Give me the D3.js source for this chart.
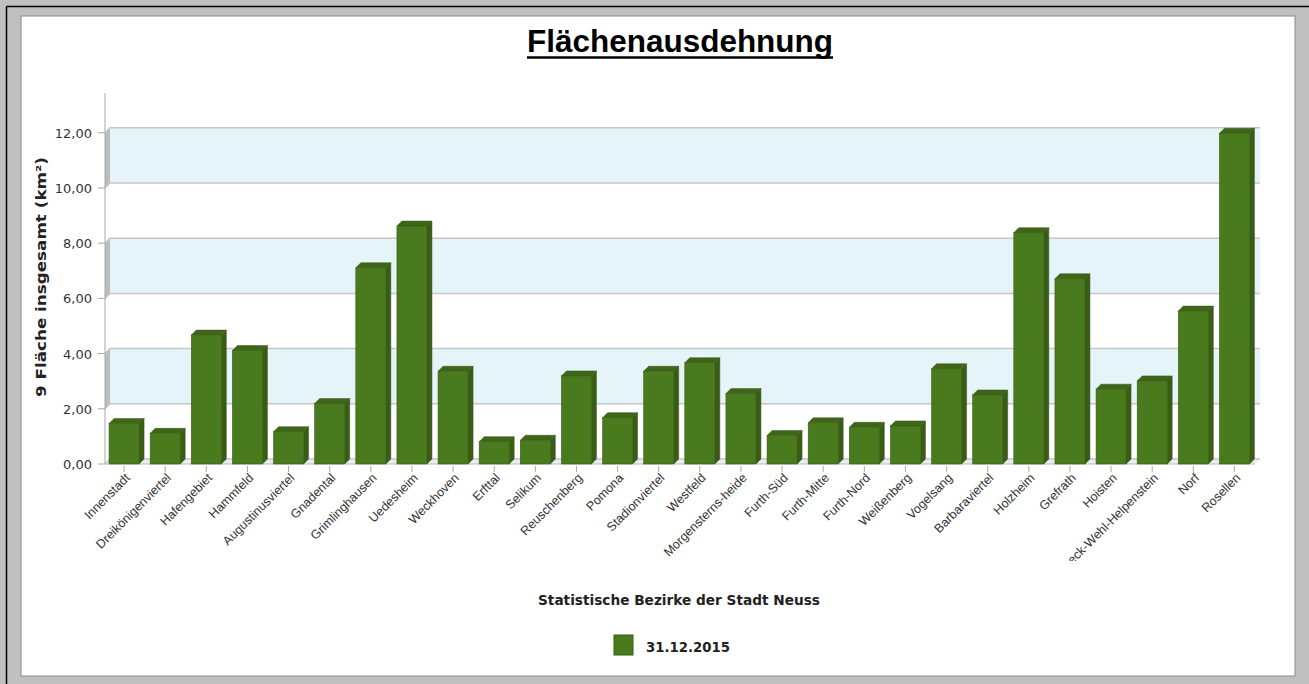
<!DOCTYPE html>
<html><head><meta charset="utf-8">
<script src="https://cdn.jsdelivr.net/npm/d3@7"></script>
<style>body{margin:0;background:#c0c0c0;}svg{display:block}</style>
</head><body>
<svg id="c" width="1309" height="684"></svg>
<script>
const categories = ["Innenstadt","Dreikönigenviertel","Hafengebiet","Hammfeld","Augustinusviertel","Gnadental","Grimlinghausen","Uedesheim","Weckhoven","Erfttal","Selikum","Reuschenberg","Pomona","Stadionviertel","Westfeld","Morgensterns-heide","Furth-Süd","Furth-Mitte","Furth-Nord","Weißenberg","Vogelsang","Barbaraviertel","Holzheim","Grefrath","Hoisten","Speck-Wehl-Helpenstein","Norf","Rosellen"];
const values2015 = [1.47,1.11,4.67,4.11,1.17,2.19,7.11,8.62,3.36,0.81,0.86,3.19,1.68,3.36,3.67,2.55,1.03,1.49,1.33,1.38,3.45,2.50,8.38,6.71,2.71,3.01,5.54,11.98];
const yTicks = [0,2,4,6,8,10,12];
const seriesName = "31.12.2015";
const titleText = "Flächenausdehnung";
const yTitle = "9 Fläche insgesamt (km²)";
const xTitle = "Statistische Bezirke der Stadt Neuss";

const svg = d3.select("#c");
const DX = 5, DY = 5;
const x = d3.scaleBand().domain(categories).range([103.5, 1255]);
const y = d3.scaleLinear().domain([0, 13.44]).range([464, 93]);
const fmt = v => v.toFixed(2).replace(".", ",");
const left = 105, right = 1255;

// frame
svg.append("rect").attr("x",0).attr("y",0).attr("width",1309).attr("height",684).attr("fill","#c0c0c0");
svg.append("line").attr("x1",6.5).attr("y1",6.5).attr("x2",1309).attr("y2",6.5).attr("stroke","#000").attr("stroke-width",1.5);
svg.append("line").attr("x1",6.5).attr("y1",6.5).attr("x2",6.5).attr("y2",684).attr("stroke","#000").attr("stroke-width",1.5);
svg.append("rect").attr("x",21).attr("y",16).attr("width",1274).attr("height",660).attr("fill","#fff").attr("stroke","#8a8a8a").attr("stroke-width",1);

// back wall bands
const bands = [[10,12],[6,8],[2,4]];
svg.selectAll(".band").data(bands).join("rect")
  .attr("x", left+DX).attr("width", right+DX-(left+DX))
  .attr("y", d=>y(d[1])-DY).attr("height", d=>y(d[0])-y(d[1]))
  .attr("fill","#e4f4f9");
svg.selectAll(".lwall").data(bands).join("polygon")
  .attr("points", d=>[[left,y(d[1])],[left+DX,y(d[1])-DY],[left+DX,y(d[0])-DY],[left,y(d[0])]].join(" "))
  .attr("fill","#b9bdbd");
// floor
svg.append("polygon").attr("points",[[left,y(0)],[right,y(0)],[right+DX,y(0)-DY],[left+DX,y(0)-DY]].join(" "))
  .attr("fill","#ececec");
// gridlines
svg.selectAll(".grid").data(yTicks).join("path")
  .attr("d", d=>`M${left},${y(d)}L${left+DX},${y(d)-DY}L${right+DX},${y(d)-DY}`)
  .attr("fill","none").attr("stroke","#c6c6c6").attr("stroke-width",1.5);

// y axis
svg.append("line").attr("x1",left).attr("x2",left).attr("y1",y.range()[1]).attr("y2",y(0)).attr("stroke","#a8a8a8");
svg.selectAll(".yt").data(yTicks).join("line").attr("x1",98).attr("x2",left).attr("y1",d=>y(d)).attr("y2",d=>y(d)).attr("stroke","#a8a8a8");
svg.selectAll(".yl").data(yTicks).join("text").attr("x",92).attr("y",d=>y(d)).attr("dy","0.38em")
  .attr("text-anchor","end").attr("font-family","DejaVu Sans").attr("font-size",13).attr("fill","#333").text(fmt);
// x axis
svg.append("line").attr("x1",left).attr("x2",right).attr("y1",y(0)).attr("y2",y(0)).attr("stroke","#bcbcbc");
svg.selectAll(".xt").data(categories).join("line")
  .attr("x1",d=>x(d)+x.bandwidth()/2).attr("x2",d=>x(d)+x.bandwidth()/2).attr("y1",466).attr("y2",472).attr("stroke","#aaa");

// bars
const BW = 30;
const bars = svg.append("g").selectAll("g").data(categories.map((c,i)=>({c, v: values2015[i]}))).join("g");
bars.each(function(d){
  const g = d3.select(this);
  const x0 = x(d.c) + (x.bandwidth()-BW)/2, x1 = x0+BW, yt = y(d.v), yb = y(0);
  g.append("polygon").attr("points",[[x1,yt],[x1+DX,yt-DY],[x1+DX,yb-DY],[x1,yb]].join(" "))
    .attr("fill","#395d15").attr("stroke","#34551a").attr("stroke-width",0.5);
  g.append("polygon").attr("points",[[x0,yt],[x1,yt],[x1+DX,yt-DY],[x0+DX,yt-DY]].join(" "))
    .attr("fill","#3f6618").attr("stroke","#34551a").attr("stroke-width",0.5);
  g.append("rect").attr("x",x0).attr("y",yt).attr("width",BW).attr("height",yb-yt)
    .attr("fill","#4a7a1e").attr("stroke","#3a5c16").attr("stroke-width",0.6);
});

// x labels
svg.append("clipPath").attr("id","lc").append("rect").attr("x",0).attr("y",465).attr("width",1309).attr("height",96);
svg.append("g").attr("clip-path","url(#lc)").selectAll("text").data(categories).join("text")
  .attr("transform", d=>`translate(${x(d)+x.bandwidth()/2},${472}) rotate(-45)`)
  .attr("dy","0.75em").attr("text-anchor","end")
  .attr("font-family","Liberation Sans").attr("font-size",12.5).attr("fill","#333").text(d=>d);

// titles
svg.append("text").attr("x",680).attr("y",52).attr("text-anchor","middle")
  .attr("font-family","Liberation Sans").attr("font-weight","bold").attr("font-size",31.5)
  .attr("textLength",306).attr("lengthAdjust","spacingAndGlyphs").attr("fill","#000").text(titleText);
svg.append("line").attr("x1",527).attr("x2",833).attr("y1",57.5).attr("y2",57.5).attr("stroke","#000").attr("stroke-width",2.5);

svg.append("text").attr("transform","translate(46,277) rotate(-90)").attr("text-anchor","middle")
  .attr("font-family","DejaVu Sans").attr("font-weight","bold").attr("font-size",14)
  .attr("textLength",240).attr("lengthAdjust","spacingAndGlyphs").attr("fill","#222").text(yTitle);

svg.append("text").attr("x",679).attr("y",605).attr("text-anchor","middle")
  .attr("font-family","DejaVu Sans").attr("font-weight","bold").attr("font-size",13.5)
  .attr("textLength",282).attr("lengthAdjust","spacingAndGlyphs").attr("fill","#222").text(xTitle);

// legend
svg.append("rect").attr("x",614).attr("y",635).attr("width",19).attr("height",20).attr("fill","#4a7a1e").attr("stroke","#3a5c16");
svg.append("text").attr("x",646).attr("y",652)
  .attr("font-family","DejaVu Sans").attr("font-weight","bold").attr("font-size",13.5)
  .attr("textLength",84).attr("lengthAdjust","spacingAndGlyphs").attr("fill","#222").text(seriesName);
</script>
</body></html>
